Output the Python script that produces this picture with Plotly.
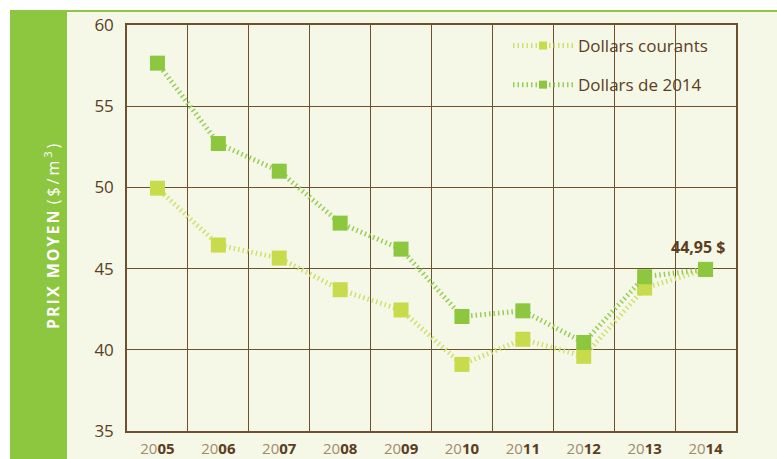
import plotly.graph_objects as go

years = ["2005", "2006", "2007", "2008", "2009", "2010", "2011", "2012", "2013", "2014"]
courants = [49.95, 46.45, 45.65, 43.7, 42.45, 39.1, 40.65, 39.6, 43.8, 44.95]
dollars2014 = [57.65, 52.7, 51.0, 47.8, 46.2, 42.05, 42.4, 40.45, 44.5, 44.95]
series_names = ["Dollars courants", "Dollars de 2014"]
y_ticks = [35, 40, 45, 50, 55, 60]
last_label = "44,95 $"

W, H = 777, 459
L, R, T, B = 127, 41, 25, 28
pw, ph = W - L - R, H - T - B

def px_x(p):
    return (p - L) / pw

def px_y(p):
    return (H - B - p) / ph

BROWN = "#5C3D1E"
LIGHT_BROWN = "#A08A6E"
GREEN = "#8DC63F"
LIME = "#C8DB4C"
CREAM = "#F5F8E7"

xs = list(range(len(years)))
ticktext = [f"<span style='color:{LIGHT_BROWN}'>{y[:2]}</span><b>{y[2:]}</b>" for y in years]

fig = go.Figure()
dash = "1.5px,3px"
fig.add_trace(go.Scatter(x=xs, y=courants, mode="lines+markers", showlegend=False,
                         line=dict(color="#CFE070", width=5, dash=dash),
                         marker=dict(symbol="square", size=15, color=LIME)))
fig.add_trace(go.Scatter(x=xs, y=dollars2014, mode="lines+markers", showlegend=False,
                         line=dict(color="#9ACD55", width=5, dash=dash),
                         marker=dict(symbol="square", size=15, color=GREEN)))
# legend entries
fig.add_trace(go.Scatter(x=[None], y=[None], mode="lines+markers", name=series_names[0],
                         legendgroup="a",
                         line=dict(color="#CFE070", width=5, dash=dash),
                         marker=dict(symbol="square", size=8, color=LIME)))
fig.add_trace(go.Scatter(x=[None], y=[None], mode="lines+markers", name=series_names[1],
                         legendgroup="b",
                         line=dict(color="#9ACD55", width=5, dash=dash),
                         marker=dict(symbol="square", size=8, color=GREEN)))

shapes = [
    dict(type="rect", xref="paper", yref="paper", x0=px_x(0), x1=px_x(10), y0=px_y(H), y1=px_y(0),
         fillcolor="white", line_width=0, layer="below"),
    dict(type="rect", xref="paper", yref="paper", x0=px_x(0), x1=px_x(W), y0=px_y(10), y1=px_y(0),
         fillcolor="white", line_width=0, layer="below"),
    dict(type="rect", xref="paper", yref="paper", x0=px_x(10), x1=px_x(W), y0=px_y(12), y1=px_y(10),
         fillcolor=GREEN, line_width=0, layer="below"),
    dict(type="rect", xref="paper", yref="paper", x0=px_x(10), x1=px_x(67), y0=px_y(H), y1=px_y(10),
         fillcolor=GREEN, line_width=0, layer="below"),
]

fig.update_layout(
    width=W, height=H,
    margin=dict(l=L, r=R, t=T, b=B, autoexpand=False),
    paper_bgcolor=CREAM, plot_bgcolor=CREAM,
    font=dict(family="Open Sans", color=BROWN),
    shapes=shapes,
    showlegend=True,
    legend=dict(x=px_x(508), y=px_y(28), xanchor="left", yanchor="top",
                bgcolor="rgba(0,0,0,0)", font=dict(size=17, color=BROWN),
                traceorder="grouped", tracegroupgap=14, itemwidth=60),
    xaxis=dict(range=[-0.5, len(years) - 0.5], tickvals=xs, ticktext=ticktext,
               showgrid=False, zeroline=False, ticks="", ticklabelstandoff=3,
               automargin=False,
               tickfont=dict(size=15, color=BROWN),
               showline=True, linecolor="#6E4F2E", linewidth=1.5, mirror=True,
               minor=dict(tickvals=[i + 0.5 for i in xs[:-1]], showgrid=True,
                          gridcolor="#6E4F2E", gridwidth=1.3, ticks="")),
    yaxis=dict(range=[y_ticks[0], y_ticks[-1]], tickvals=y_ticks, showgrid=True,
               gridcolor="#6E4F2E", gridwidth=1.3, zeroline=False, ticks="",
               automargin=False,
               ticklabelstandoff=8, tickfont=dict(size=17, color=BROWN),
               showline=True, linecolor="#6E4F2E", linewidth=1.5, mirror=True),
    annotations=[
        dict(x=xs[-1], y=dollars2014[-1], xref="x", yref="y", text=f"<b>{last_label}</b>",
             showarrow=False, yshift=22, xshift=-8, font=dict(size=16, color=BROWN)),
        dict(x=px_x(38), y=px_y(235), xref="paper", yref="paper", textangle=-90,
             text="<span style='letter-spacing:2px'><b>PRIX MOYEN</b></span> "
                  "<span style='letter-spacing:3px'>($/m<sup>3</sup>)</span>",
             showarrow=False, font=dict(size=16, color="white")),
    ],
)

fig.write_html("out.html", config={"displayModeBar": False},
               post_script="document.body.style.margin='0';document.body.style.overflow='hidden';")
